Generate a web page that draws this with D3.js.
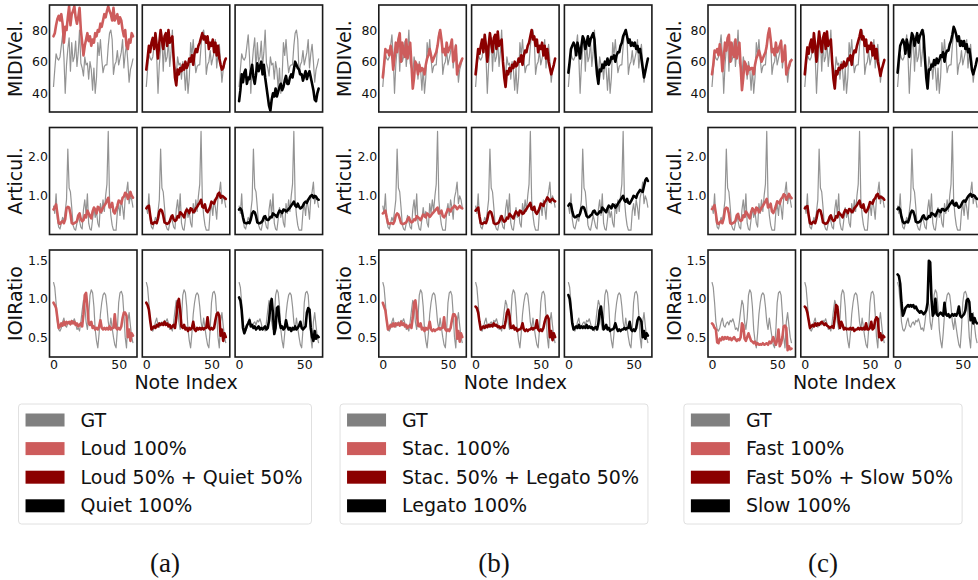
<!DOCTYPE html>
<html>
<head>
<meta charset="utf-8">
<script src="https://cdn.jsdelivr.net/npm/d3@7"></script>
<style>
  body { margin: 0; background: #fff; }
  svg { display: block; font-family: "DejaVu Sans", sans-serif; }
</style>
</head>
<body>
<div class="chart"></div>
<script>
// ground truth, one array per feature row (note index 0..61)
var gtVel = [44,55,65,62,61,63,70,77,63,40,58,68,75,54,72,60,63,73,57,66,80,59,56,51,63,58,59,49,60,55,42,56,40,50,72,64,74,62,53,57,58,58,70,78,80,74,52,58,60,67,58,62,66,74,56,65,71,60,47,55,58,62];
var gtArt = [0.75,0.55,1.05,0.4,0.2,0.15,0.3,0.45,0.35,0.6,0.9,2.2,1.2,1.1,0.7,0.25,0.15,0.12,0.3,0.5,0.35,0.2,0.15,0.65,0.9,0.5,1.05,0.3,0.15,0.12,0.4,0.7,0.45,0.6,0.3,0.2,0.8,0.55,0.9,0.6,1.0,1.3,2.65,0.9,0.5,0.25,0.12,0.12,0.12,0.6,0.8,0.5,0.9,0.7,0.4,0.95,1.1,1.35,0.8,1.0,0.9,0.7];
var gtIoi = [1.22,1.15,0.95,0.7,0.6,0.58,0.62,0.7,0.75,0.65,0.63,0.68,0.7,0.66,0.72,0.7,0.74,0.68,0.6,0.62,0.58,0.7,0.85,0.98,0.92,0.7,0.6,0.75,1.05,1.12,1.08,0.9,0.6,0.45,0.36,0.55,0.8,0.95,1.05,1.08,1.05,0.9,0.7,0.6,0.75,0.62,0.5,0.4,0.36,0.6,0.95,1.08,1.1,1.05,0.8,0.5,0.36,0.7,0.82,0.65,0.5,0.42];

// (a) loudness
var velA1 = [76,78,83,87,89,86,90,84,72,82,80,88,95,83,90,92,95,88,84,88,94,80,72,64,70,74,78,73,76,70,74,72,78,76,80,79,84,82,86,90,88,92,95,92,90,86,94,86,88,90,84,88,86,80,76,80,70,68,74,72,78,76];
var velA2 = [55,62,70,66,72,75,68,78,70,62,72,80,74,68,76,78,70,80,72,74,76,62,50,45,55,52,56,54,58,55,60,56,58,62,60,64,58,65,68,66,70,72,75,78,74,76,72,76,68,72,70,74,66,72,64,70,62,58,55,56,60,62];
var velA3 = [35,42,52,47,53,55,46,50,49,54,58,50,46,52,59,54,57,60,52,58,50,44,38,32,29,36,40,38,43,38,41,44,46,42,44,48,51,46,46,50,52,50,55,60,58,56,55,52,52,48,51,54,49,52,54,50,46,42,36,35,40,43];
var artA1 = [0.65,0.7,0.78,0.55,0.3,0.28,0.33,0.35,0.3,0.4,0.68,0.72,0.7,0.55,0.3,0.28,0.3,0.32,0.35,0.5,0.55,0.4,0.35,0.38,0.5,0.45,0.62,0.55,0.48,0.42,0.6,0.7,0.65,0.55,0.72,0.7,0.58,0.62,0.7,0.75,0.8,0.88,0.95,0.7,0.72,0.82,0.6,0.55,0.65,0.75,0.88,0.85,0.8,0.95,0.98,1.08,1.05,0.92,0.98,1.1,1.0,0.95];
var artA2 = [0.68,0.72,0.75,0.5,0.3,0.28,0.32,0.33,0.3,0.42,0.6,0.65,0.62,0.5,0.32,0.3,0.28,0.3,0.35,0.45,0.5,0.4,0.36,0.38,0.48,0.45,0.58,0.55,0.5,0.45,0.58,0.65,0.62,0.56,0.68,0.66,0.58,0.6,0.68,0.72,0.78,0.82,0.9,0.72,0.7,0.78,0.62,0.58,0.64,0.72,0.85,0.82,0.8,0.9,0.95,1.05,1.08,0.95,1.0,0.98,0.95,0.92];
var artA3 = [0.65,0.68,0.62,0.45,0.32,0.3,0.3,0.32,0.3,0.4,0.55,0.6,0.58,0.48,0.32,0.3,0.3,0.32,0.36,0.45,0.48,0.4,0.38,0.4,0.46,0.45,0.55,0.52,0.5,0.46,0.55,0.62,0.6,0.56,0.65,0.64,0.6,0.62,0.66,0.7,0.75,0.8,0.85,0.75,0.72,0.8,0.72,0.68,0.7,0.75,0.82,0.85,0.82,0.9,0.95,1.0,1.02,0.95,1.0,0.98,0.92,0.9];
var ioiA1 = [0.95,0.92,0.88,0.75,0.62,0.64,0.68,0.65,0.7,0.66,0.7,0.68,0.7,0.67,0.71,0.68,0.7,0.66,0.68,0.64,0.66,0.68,0.64,0.8,1.05,1.08,0.9,0.68,0.66,0.7,0.62,0.64,0.6,0.62,0.6,0.64,0.72,0.62,0.6,0.62,0.6,0.62,0.6,0.64,0.6,0.62,0.62,0.8,0.62,0.6,0.62,0.6,0.64,0.75,0.82,0.82,0.78,0.5,0.6,0.45,0.55,0.52];
var ioiA2 = [0.95,0.92,0.86,0.72,0.6,0.62,0.64,0.62,0.66,0.64,0.68,0.66,0.68,0.66,0.7,0.66,0.68,0.64,0.66,0.62,0.64,0.66,0.62,0.75,0.95,1.0,0.85,0.64,0.62,0.66,0.6,0.62,0.58,0.62,0.6,0.62,0.7,0.6,0.58,0.62,0.6,0.62,0.6,0.62,0.6,0.62,0.62,0.76,0.62,0.6,0.62,0.6,0.62,0.72,0.8,0.82,0.78,0.52,0.6,0.45,0.55,0.5];
var ioiA3 = [1.02,0.98,0.85,0.62,0.55,0.6,0.65,0.68,0.72,0.64,0.66,0.62,0.64,0.6,0.62,0.64,0.6,0.62,0.6,0.62,0.64,0.6,0.62,0.72,0.92,1.0,0.8,0.54,0.62,0.88,0.9,0.7,0.62,0.64,0.6,0.62,0.72,0.64,0.6,0.62,0.58,0.62,0.6,0.64,0.6,0.62,0.65,0.7,0.62,0.6,0.62,0.64,0.82,0.88,0.86,0.62,0.5,0.45,0.58,0.48,0.52,0.5];

// (b) articulation
var velB1 = [50,58,68,66,67,64,70,66,55,62,72,66,74,78,60,72,66,63,74,62,68,72,58,43,50,60,58,52,58,54,56,55,52,58,62,64,68,64,60,62,64,66,70,76,80,74,66,68,64,72,66,68,70,74,60,62,70,52,56,58,60,62];
var velB2 = [52,60,68,65,70,74,66,77,70,60,70,78,72,66,75,77,68,79,70,72,74,60,50,44,54,52,56,54,58,56,60,57,58,62,60,64,58,64,67,66,70,72,76,80,74,76,70,74,66,70,68,72,64,70,62,68,60,56,52,55,58,62];
var velB3 = [53,60,68,70,72,70,64,72,68,62,70,76,74,68,72,76,70,74,76,78,74,62,52,46,55,54,58,56,60,58,62,58,60,63,62,64,60,64,66,66,70,72,76,78,80,76,72,74,70,72,70,72,68,70,66,68,62,56,50,54,58,62];
var artB1 = [0.55,0.58,0.62,0.45,0.3,0.28,0.3,0.3,0.28,0.35,0.5,0.55,0.52,0.42,0.3,0.28,0.28,0.3,0.32,0.4,0.45,0.36,0.32,0.34,0.4,0.38,0.48,0.45,0.42,0.38,0.45,0.52,0.5,0.45,0.55,0.52,0.46,0.5,0.55,0.58,0.62,0.66,0.7,0.55,0.56,0.62,0.48,0.45,0.5,0.58,0.66,0.64,0.6,0.68,0.7,0.75,0.72,0.66,0.7,0.74,0.7,0.68];
var artB2 = [0.62,0.66,0.7,0.48,0.3,0.28,0.3,0.32,0.3,0.4,0.56,0.6,0.58,0.46,0.3,0.28,0.28,0.3,0.33,0.42,0.48,0.38,0.34,0.36,0.44,0.42,0.54,0.5,0.46,0.42,0.52,0.6,0.56,0.5,0.62,0.6,0.54,0.56,0.62,0.66,0.72,0.76,0.82,0.66,0.64,0.72,0.58,0.54,0.6,0.68,0.8,0.78,0.74,0.84,0.88,0.96,0.92,0.85,0.9,0.92,0.88,0.86];
var artB3 = [0.75,0.8,0.78,0.6,0.48,0.45,0.46,0.5,0.48,0.55,0.68,0.72,0.7,0.6,0.48,0.45,0.46,0.5,0.52,0.6,0.62,0.55,0.52,0.55,0.6,0.58,0.7,0.66,0.62,0.58,0.68,0.75,0.72,0.68,0.78,0.76,0.7,0.74,0.8,0.85,0.9,0.95,1.0,0.88,0.85,0.92,0.82,0.8,0.86,0.92,1.0,0.98,0.95,1.05,1.1,1.15,1.12,1.1,1.25,1.4,1.45,1.38];
var ioiB1 = [0.95,0.9,0.85,0.72,0.6,0.62,0.66,0.64,0.68,0.64,0.68,0.66,0.68,0.65,0.7,0.66,0.68,0.64,0.66,0.62,0.64,0.66,0.62,0.76,0.95,0.98,0.84,0.65,0.64,0.68,0.6,0.62,0.58,0.62,0.6,0.62,0.7,0.6,0.58,0.6,0.58,0.6,0.6,0.62,0.6,0.62,0.62,0.76,0.6,0.58,0.6,0.58,0.62,0.72,0.8,0.8,0.76,0.48,0.58,0.44,0.55,0.5];
var ioiB2 = [0.9,0.88,0.82,0.7,0.6,0.62,0.64,0.62,0.65,0.63,0.66,0.64,0.66,0.64,0.68,0.65,0.66,0.63,0.64,0.62,0.63,0.64,0.62,0.7,0.82,0.86,0.78,0.62,0.62,0.65,0.6,0.62,0.58,0.6,0.6,0.62,0.68,0.6,0.58,0.6,0.58,0.6,0.6,0.62,0.6,0.62,0.62,0.72,0.6,0.58,0.6,0.58,0.62,0.7,0.76,0.78,0.74,0.5,0.58,0.46,0.55,0.5];
var ioiB3 = [1.05,1.0,0.85,0.68,0.6,0.62,0.64,0.62,0.66,0.62,0.64,0.62,0.64,0.62,0.66,0.62,0.64,0.62,0.63,0.6,0.62,0.63,0.6,0.68,0.85,0.9,0.76,0.6,0.62,0.66,0.6,0.62,0.58,0.6,0.6,0.62,0.68,0.62,0.58,0.6,0.58,0.6,0.6,0.62,0.6,0.62,0.62,0.7,0.6,0.58,0.6,0.58,0.62,0.72,0.76,0.74,0.7,0.5,0.58,0.48,0.55,0.52];

// (c) tempo
var velC1 = [52,58,67,66,68,64,71,66,54,62,72,67,75,77,60,72,65,63,74,62,67,72,57,42,50,60,58,52,57,55,56,56,52,58,62,64,67,64,60,62,64,66,70,77,81,74,66,68,64,72,66,68,70,73,60,62,70,52,55,57,60,61];
var velC2 = [52,61,69,65,71,74,66,78,70,60,70,79,72,66,75,78,68,79,70,72,74,60,49,43,54,52,56,55,58,56,60,57,58,62,61,64,58,64,67,66,70,73,76,80,74,76,70,74,66,70,68,72,64,70,62,68,60,56,51,55,58,61];
var velC3 = [53,62,70,72,74,72,65,74,70,63,72,78,76,70,74,78,72,76,78,80,76,62,50,43,55,55,58,57,61,58,62,59,61,64,63,66,60,65,67,67,71,73,77,82,80,77,73,76,70,73,70,73,68,71,66,68,62,55,52,55,58,62];
var artC1 = [0.66,0.7,0.76,0.54,0.3,0.28,0.32,0.35,0.3,0.42,0.66,0.7,0.68,0.54,0.3,0.28,0.3,0.32,0.36,0.5,0.54,0.4,0.36,0.38,0.5,0.46,0.6,0.55,0.48,0.42,0.58,0.68,0.64,0.55,0.7,0.68,0.58,0.62,0.7,0.74,0.8,0.86,0.92,0.7,0.72,0.8,0.6,0.56,0.64,0.74,0.86,0.84,0.8,0.92,0.96,1.04,1.02,0.9,0.96,1.05,0.98,0.94];
var artC2 = [0.68,0.72,0.74,0.5,0.3,0.28,0.32,0.34,0.3,0.42,0.6,0.64,0.62,0.5,0.32,0.3,0.28,0.3,0.35,0.45,0.5,0.4,0.36,0.38,0.48,0.45,0.58,0.54,0.5,0.45,0.56,0.64,0.62,0.56,0.66,0.65,0.58,0.6,0.68,0.72,0.76,0.82,0.88,0.72,0.7,0.78,0.62,0.58,0.64,0.72,0.84,0.82,0.8,0.9,0.94,1.02,1.05,0.94,0.98,0.96,0.94,0.9];
var artC3 = [0.66,0.7,0.64,0.46,0.34,0.3,0.32,0.34,0.32,0.42,0.56,0.62,0.6,0.5,0.34,0.32,0.32,0.34,0.38,0.46,0.5,0.42,0.4,0.42,0.48,0.46,0.56,0.54,0.52,0.48,0.56,0.64,0.62,0.58,0.66,0.66,0.62,0.64,0.68,0.72,0.78,0.82,0.88,0.78,0.75,0.82,0.74,0.7,0.72,0.78,0.85,0.88,0.85,0.92,0.98,1.02,1.05,0.98,1.02,1.0,0.95,0.92];
var ioiC1 = [0.68,0.66,0.62,0.6,0.43,0.42,0.48,0.46,0.5,0.47,0.5,0.48,0.5,0.47,0.49,0.46,0.48,0.5,0.47,0.45,0.47,0.46,0.5,0.68,0.65,0.48,0.45,0.5,0.55,0.5,0.45,0.44,0.42,0.44,0.4,0.42,0.4,0.41,0.4,0.42,0.4,0.41,0.42,0.4,0.44,0.42,0.45,0.5,0.44,0.4,0.46,0.6,0.38,0.42,0.5,0.64,0.65,0.62,0.33,0.38,0.34,0.35];
var ioiC2 = [0.9,0.88,0.82,0.72,0.62,0.64,0.66,0.64,0.68,0.65,0.68,0.66,0.68,0.7,0.68,0.66,0.68,0.65,0.64,0.62,0.63,0.64,0.62,0.75,0.92,0.9,0.72,0.62,0.7,0.66,0.6,0.62,0.6,0.61,0.6,0.62,0.6,0.62,0.58,0.6,0.6,0.62,0.6,0.62,0.6,0.62,0.6,0.68,0.6,0.6,0.62,0.7,0.6,0.62,0.72,0.76,0.74,0.5,0.55,0.46,0.52,0.5];
var ioiC3 = [1.32,1.3,1.2,0.95,0.78,0.82,0.88,0.9,0.92,0.9,0.92,0.9,0.92,0.88,0.9,0.86,0.84,0.82,0.84,0.82,0.8,0.82,0.85,0.95,1.5,1.48,1.0,0.78,0.82,1.0,0.8,0.78,0.8,0.82,0.8,0.78,0.95,0.8,0.78,0.8,0.76,0.78,0.8,0.78,0.8,0.78,0.82,0.9,0.78,0.76,0.78,0.8,0.85,0.98,1.0,0.96,0.72,0.8,0.68,0.75,0.7,0.68];

var legendA = ["GT", "Loud 100%", "Loud 50% + Quiet 50%", "Quiet 100%"];
var legendB = ["GT", "Stac. 100%", "Stac. 50% + Legato 50%", "Legato 100%"];
var legendC = ["GT", "Fast 100%", "Fast 50% + Slow 50%", "Slow 100%"];
var captions = ["(a)", "(b)", "(c)"];

var rowLabels = ["MIDIVel.", "Articul.", "IOIRatio"];
var yTicks = [[40, 60, 80], [1.0, 2.0], [0.5, 1.0, 1.5]];
var xTicks = [0, 50];

var gtColor = "#808080";
var predColors = ["#cd5c5c", "#8b0000", "#000000"];

var svgWidth = 978;
var svgHeight = 580;
var panelW = 87.5, panelH = 107, colStep = 92.8;
var rowTop = [5, 127.5, 250];

var groups = [
  { left: 49.5, cx: 165, legend: legendA, rows: [[velA1, velA2, velA3], [artA1, artA2, artA3], [ioiA1, ioiA2, ioiA3]] },
  { left: 378.8, cx: 494, legend: legendB, rows: [[velB1, velB2, velB3], [artB1, artB2, artB3], [ioiB1, ioiB2, ioiB3]] },
  { left: 708, cx: 823, legend: legendC, rows: [[velC1, velC2, velC3], [artC1, artC2, artC3], [ioiC1, ioiC2, ioiC3]] }
];
var gtRows = [gtVel, gtArt, gtIoi];
var yDomains = [[28.2, 95.8], [0.01, 2.75], [0.24, 1.64]];
var yFormats = [d3.format("d"), d3.format(".1f"), d3.format(".1f")];

var svg = d3.select(".chart")
  .append("svg")
  .attr("width", svgWidth)
  .attr("height", svgHeight);

// x = note index, 5% margin each side like matplotlib
var xScale = d3.scaleLinear()
  .domain([-0.05 * (gtVel.length - 1), 1.05 * (gtVel.length - 1)])
  .range([0, panelW]);

var yScales = yDomains.map(function(dom) {
  return d3.scaleLinear().domain(dom).range([panelH, 0]);
});

groups.forEach(function(grp, gi) {
  var gGroup = svg.append("g");

  grp.rows.forEach(function(preds, r) {
    var yScale = yScales[r];
    var line = d3.line()
      .x(function(d, i) { return xScale(i); })
      .y(function(d) { return yScale(d); });

    preds.forEach(function(pred, c) {
      var panel = gGroup.append("g")
        .attr("transform", `translate(${grp.left + c * colStep}, ${rowTop[r]})`);

      panel.append("rect")
        .attr("width", panelW)
        .attr("height", panelH)
        .attr("fill", "#fff");

      panel.append("path")
        .datum(gtRows[r])
        .attr("d", line)
        .attr("fill", "none")
        .attr("stroke", gtColor)
        .attr("stroke-opacity", 0.85)
        .attr("stroke-width", 1.2)
        .attr("stroke-linejoin", "round");

      panel.append("path")
        .datum(pred)
        .attr("d", line)
        .attr("fill", "none")
        .attr("stroke", predColors[c])
        .attr("stroke-width", 2.6)
        .attr("stroke-linejoin", "round")
        .attr("stroke-linecap", "round");

      panel.append("rect")
        .attr("width", panelW)
        .attr("height", panelH)
        .attr("fill", "none")
        .attr("stroke", "#1a1a1a")
        .attr("stroke-width", 1.6);

      if (c === 0) {
        var ya = panel.append("g")
          .call(d3.axisLeft(yScale).tickValues(yTicks[r]).tickFormat(yFormats[r]).tickSize(0).tickPadding(1.5));
        ya.select(".domain").remove();
        ya.selectAll("text")
          .attr("font-size", "12.5px")
          .attr("font-family", "DejaVu Sans")
          .attr("fill", "#111");

        panel.append("text")
          .attr("transform", `translate(-27.5, ${panelH / 2}) rotate(-90)`)
          .attr("text-anchor", "middle")
          .attr("font-size", "19px")
          .attr("fill", "#111")
          .text(rowLabels[r]);
      }

      if (r === 2) {
        var xa = panel.append("g")
          .attr("transform", `translate(0, ${panelH})`)
          .call(d3.axisBottom(xScale).tickValues(xTicks).tickSize(0).tickPadding(3));
        xa.select(".domain").remove();
        xa.selectAll("text")
          .attr("font-size", "12.5px")
          .attr("font-family", "DejaVu Sans")
          .attr("fill", "#111");

        if (c === 1) {
          panel.append("text")
            .attr("x", panelW / 2)
            .attr("y", panelH + 32)
            .attr("text-anchor", "middle")
            .attr("font-size", "19px")
            .attr("fill", "#111")
            .text("Note Index");
        }
      }
    });
  });

  // Legend
  var lg = gGroup.append("g");
  var box = lg.append("rect");
  var entryY = [420, 448.6, 477.2, 505.8];
  var entryColors = [gtColor].concat(predColors);
  var texts = lg.selectAll("text.leg")
    .data(grp.legend)
    .enter()
    .append("text")
    .attr("class", "leg")
    .attr("y", (d, i) => entryY[i])
    .attr("dy", "0.35em")
    .attr("font-size", "19px")
    .attr("fill", "#111")
    .text(d => d);
  var maxW = 0;
  texts.each(function() { maxW = Math.max(maxW, this.getComputedTextLength()); });
  var boxW = 62 + maxW + 9;
  var boxX = grp.cx - boxW / 2;
  box.attr("x", boxX).attr("y", 404).attr("width", boxW).attr("height", 120)
    .attr("rx", 3).attr("fill", "#fff").attr("stroke", "#e0e0e0").attr("stroke-width", 1);
  texts.attr("x", boxX + 62);
  lg.selectAll("rect.patch")
    .data(grp.legend)
    .enter()
    .append("rect")
    .attr("class", "patch")
    .attr("x", boxX + 7)
    .attr("y", (d, i) => entryY[i] - 6.5)
    .attr("width", 39)
    .attr("height", 13)
    .attr("fill", (d, i) => entryColors[i]);

  gGroup.append("text")
    .attr("x", grp.cx)
    .attr("y", 572)
    .attr("text-anchor", "middle")
    .attr("font-family", "Liberation Serif, serif")
    .attr("font-size", "27px")
    .attr("fill", "#111")
    .text(captions[gi]);
});
</script>
</body>
</html>
